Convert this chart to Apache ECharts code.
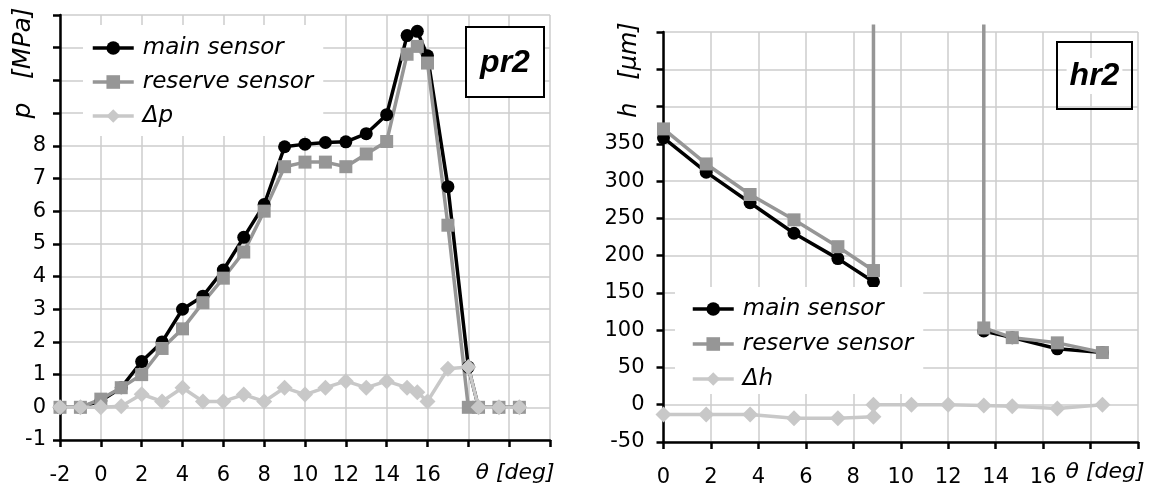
<!DOCTYPE html>
<html>
<head>
<meta charset="utf-8">
<script src="https://cdn.jsdelivr.net/npm/echarts@6/dist/echarts.min.js"></script>
<style>
html,body{margin:0;padding:0;background:#fff;}
#chart{width:1151px;height:488px;}
</style>
</head>
<body>
<div id="chart"></div>
<script>
// ---------- data: left chart (pr2) ----------
const pTheta    = [-2, -1, 0, 1, 2, 3, 4, 5, 6, 7, 8, 9, 10, 11, 12, 13, 14, 15, 15.5, 16, 17, 18, 18.5, 19.5, 20.5];
const pMain     = [0, 0, 0.2, 0.6, 1.4, 2.0, 3.0, 3.4, 4.2, 5.2, 6.2, 7.97, 8.05, 8.1, 8.12, 8.37, 8.95, 11.37, 11.5, 10.75, 6.75, 1.23, 0, 0, 0];
const pReserve  = [0, 0, 0.25, 0.6, 1.0, 1.8, 2.4, 3.2, 3.95, 4.75, 6.0, 7.36, 7.5, 7.5, 7.36, 7.75, 8.13, 10.8, 11.04, 10.53, 5.57, 0, 0, 0, 0];
const pDelta    = [0, 0, 0, 0.03, 0.4, 0.18, 0.6, 0.18, 0.18, 0.39, 0.18, 0.6, 0.39, 0.6, 0.8, 0.6, 0.8, 0.6, 0.46, 0.18, 1.18, 1.23, 0, 0, 0];

// ---------- data: right chart (hr2) ----------
const hMainX    = [0, 1.8, 3.65, 5.5, 7.35, 8.85, 11, 13.5, 14.7, 16.6, 18.5];
const hMain     = [358, 312, 271, 230, 196, 165, null, 99, 90, 75, 70];
const hReserveX = [0, 1.8, 3.65, 5.5, 7.35, 8.85, 8.85, 11, 13.5, 13.5, 14.7, 16.6, 18.5];
const hReserve  = [370, 323, 282, 248, 212, 180, 510, null, 510, 103, 90, 83, 70];
const hDeltaX   = [0, 1.8, 3.65, 5.5, 7.35, 8.85, 8.85, 10.45, 12, 13.5, 14.7, 16.6, 18.5];
const hDelta    = [-13, -13, -13, -18, -18, -16, 0, 0, 0, -1, -2, -5, 0];

// ---------- axis ticks / texts ----------
const pXRange = [-2, 22, 2], pXLabelMax = 16;
const pYRange = [-1, 12, 1], pYLabelMax = 8;
const hXRange = [0, 20, 2],  hXLabelMax = 16;
const hYRange = [-50, 500, 50], hYLabelMax = 350;
const legendLeft  = ['main sensor', 'reserve sensor', 'Δp'];
const legendRight = ['main sensor', 'reserve sensor', 'Δh'];

const FONT = '"DejaVu Sans", Verdana, sans-serif';
const COL_MAIN = '#000000', COL_RES = '#969696', COL_DELTA = '#c8c8c8', COL_GRID = '#cccccc';

function pairs(xs, ys, yMax) {
  return xs.map((x, i) => {
    const y = ys[i];
    if (y === null) return [x, '-'];
    if (yMax !== undefined && y > yMax) return { value: [x, y], symbol: 'none' };
    return [x, y];
  });
}

function xAxisCfg(gi, r, lmax) {
  return {
    type: 'value', gridIndex: gi, min: r[0], max: r[1], interval: r[2],
    axisLine: { onZero: false, lineStyle: { color: '#000', width: 2.5 } },
    axisTick: { length: 7, lineStyle: { color: '#000', width: 2.5 } },
    axisLabel: { margin: 25, fontSize: 21, fontFamily: FONT, color: '#000',
      formatter: v => (v > lmax ? '' : String(v)) },
    splitLine: { show: true, lineStyle: { color: COL_GRID, width: 1.5 } }
  };
}
function yAxisCfg(gi, r, lmax, margin) {
  return {
    type: 'value', gridIndex: gi, min: r[0], max: r[1], interval: r[2],
    axisLine: { show: true, onZero: false, lineStyle: { color: '#000', width: 2.5 } },
    axisTick: { show: true, length: 7, lineStyle: { color: '#000', width: 2.5 } },
    axisLabel: { margin: margin, fontSize: 21, fontFamily: FONT, color: '#000',
      formatter: v => (v > lmax ? '' : String(v)) },
    splitLine: { show: true, lineStyle: { color: COL_GRID, width: 1.5 } }
  };
}
function lineSeries(name, gi, data, color, symbol, size) {
  return {
    name: name, type: 'line', xAxisIndex: gi, yAxisIndex: gi, data: data,
    symbol: symbol, symbolSize: size, clip: false, connectNulls: false,
    lineStyle: { color: color, width: 3.5 }, itemStyle: { color: color },
    emphasis: { disabled: true }
  };
}
function legendCfg(names, left, top, padding, gap) {
  return {
    data: names, orient: 'vertical', left: left, top: top, padding: padding,
    itemGap: gap, itemWidth: 41, itemHeight: 17, backgroundColor: '#ffffff',
    selectedMode: false,
    lineStyle: { width: 3.5 },
    textStyle: { fontSize: 23, fontStyle: 'italic', fontFamily: FONT, color: '#000',
      lineHeight: 24, padding: [0, 0, 0, 4] }
  };
}

const chart = echarts.init(document.getElementById('chart'), null, { renderer: 'canvas' });
chart.setOption({
  animation: false,
  backgroundColor: '#ffffff',
  grid: [
    { left: 60, top: 15, width: 490, height: 425, containLabel: false, outerBoundsMode: 'none' },
    { left: 663.5, top: 32, width: 474.5, height: 410, containLabel: false, outerBoundsMode: 'none' }
  ],
  xAxis: [xAxisCfg(0, pXRange, pXLabelMax), xAxisCfg(1, hXRange, hXLabelMax)],
  yAxis: [yAxisCfg(0, pYRange, pYLabelMax, 14), yAxisCfg(1, hYRange, hYLabelMax, 19)],
  legend: [
    legendCfg(legendLeft, 83, 25, [11, 10, 8, 8], 10),
    legendCfg(legendRight, 675, 287, [10, 10, 3, 16], 11)
  ],
  series: [
    lineSeries('main sensor', 0, pairs(pTheta, pMain), COL_MAIN, 'circle', 13),
    lineSeries('reserve sensor', 0, pairs(pTheta, pReserve), COL_RES, 'rect', 13),
    lineSeries('Δp', 0, pairs(pTheta, pDelta), COL_DELTA, 'diamond', 16),
    lineSeries('main sensor', 1, pairs(hMainX, hMain, hYRange[1]), COL_MAIN, 'circle', 13),
    lineSeries('reserve sensor', 1, pairs(hReserveX, hReserve, hYRange[1]), COL_RES, 'rect', 13),
    lineSeries('Δh', 1, pairs(hDeltaX, hDelta, hYRange[1]), COL_DELTA, 'diamond', 16)
  ],
  graphic: [
    { type: 'text', x: 23, y: 63, rotation: Math.PI / 2, z: 100,
      style: { text: 'p   [MPa]', font: 'italic 25px ' + FONT, fill: '#000', align: 'center', verticalAlign: 'middle' } },
    { type: 'text', x: 630, y: 70, rotation: Math.PI / 2, z: 100,
      style: { text: 'h   [μm]', font: 'italic 24px ' + FONT, fill: '#000', align: 'center', verticalAlign: 'middle' } },
    { type: 'text', x: 515, y: 473, z: 100,
      style: { text: 'θ [deg]', font: 'italic 22px ' + FONT, fill: '#000', align: 'center', verticalAlign: 'middle' } },
    { type: 'text', x: 1105, y: 472, z: 100,
      style: { text: 'θ [deg]', font: 'italic 22px ' + FONT, fill: '#000', align: 'center', verticalAlign: 'middle' } },
    { type: 'rect', z: 100, shape: { x: 466, y: 27, width: 78, height: 70 },
      style: { fill: '#ffffff', stroke: '#000', lineWidth: 2 } },
    { type: 'text', x: 505, y: 63, z: 101,
      style: { text: 'pr2', font: 'italic bold 32px "Liberation Sans", Arial, sans-serif', fill: '#000', align: 'center', verticalAlign: 'middle' } },
    { type: 'rect', z: 100, shape: { x: 1057, y: 42, width: 75, height: 67 },
      style: { fill: 'none', stroke: '#000', lineWidth: 2 } },
    { type: 'text', x: 1094.5, y: 76, z: 101,
      style: { text: 'hr2', font: 'italic bold 32px "Liberation Sans", Arial, sans-serif', fill: '#000', align: 'center', verticalAlign: 'middle',
        backgroundColor: '#ffffff', padding: [2, 3] } }
  ]
});
</script>
</body>
</html>
